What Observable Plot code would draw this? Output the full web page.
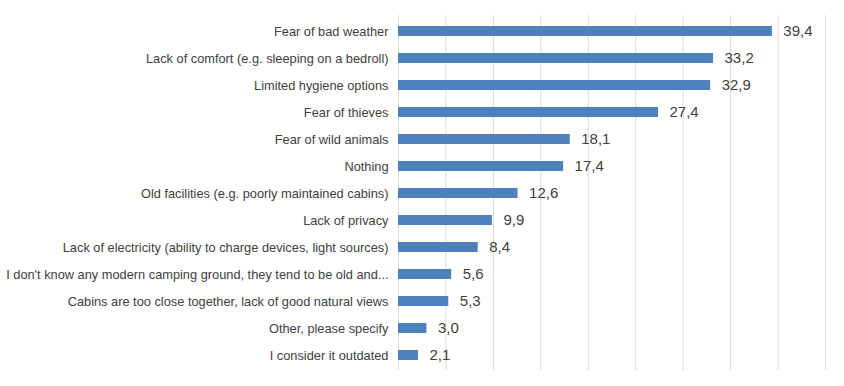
<!DOCTYPE html>
<html>
<head>
<meta charset="utf-8">
<script src="https://cdn.jsdelivr.net/npm/d3@7"></script>
<script src="https://cdn.jsdelivr.net/npm/@observablehq/plot@0.6"></script>
<style>
  html, body { margin: 0; padding: 0; background: #fff; }
  #chart svg { display: block; }
</style>
</head>
<body>
<div id="chart"></div>
<script>
const categories = [
  "Fear of bad weather",
  "Lack of comfort (e.g. sleeping on a bedroll)",
  "Limited hygiene options",
  "Fear of thieves",
  "Fear of wild animals",
  "Nothing",
  "Old facilities (e.g. poorly maintained cabins)",
  "Lack of privacy",
  "Lack of electricity (ability to charge devices, light sources)",
  "I don't know any modern camping ground, they tend to be old and...",
  "Cabins are too close together, lack of good natural views",
  "Other, please specify",
  "I consider it outdated"
];
const values = [39.4, 33.2, 32.9, 27.4, 18.1, 17.4, 12.6, 9.9, 8.4, 5.6, 5.3, 3.0, 2.1];
const gridTicks = [0, 5, 10, 15, 20, 25, 30, 35, 40, 45];

const data = categories.map((c, i) => ({category: c, value: values[i]}));
const fmt = v => v.toFixed(1).replace(".", ",");

const chart = Plot.plot({
  width: 844,
  height: 386,
  marginLeft: 398,
  marginRight: 19,
  marginTop: 15,
  marginBottom: 16,
  style: {fontFamily: "'Liberation Sans', Arial, sans-serif", color: "#404040", background: "#fff"},
  x: {domain: [0, 45], axis: null},
  y: {domain: categories, paddingInner: 0.63, paddingOuter: 0.33, axis: null},
  marks: [
    Plot.ruleX(gridTicks, {stroke: "#d9d9d9", strokeWidth: 1}),
    Plot.barX(data, {x: "value", y: "category", fill: "#4f81bd"}),
    Plot.axisY({tickSize: 0, tickPadding: 10, fontSize: 12.8, fill: "#404040", label: null}),
    Plot.text(data, {x: "value", y: "category", text: d => fmt(d.value), dx: 11, textAnchor: "start", fontSize: 15, fill: "#404040"})
  ]
});
document.getElementById("chart").appendChild(chart);
</script>
</body>
</html>
